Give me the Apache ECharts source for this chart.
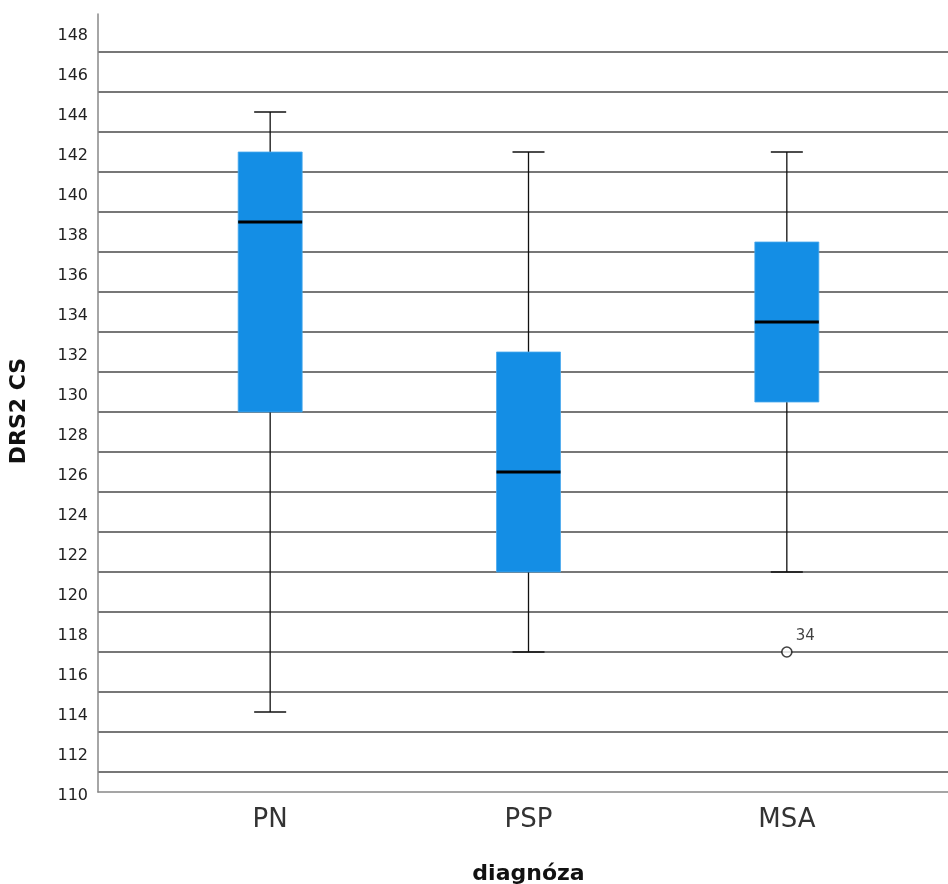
<!DOCTYPE html>
<html>
<head>
<meta charset="utf-8">
<script src="https://cdn.jsdelivr.net/npm/echarts@6/dist/echarts.min.js"></script>
<style>
  html, body { margin: 0; padding: 0; background: #fff; }
  #chart { width: 948px; height: 884px; }
</style>
</head>
<body>
<div id="chart"></div>
<script>
// ---- data ----
const categories = ['PN', 'PSP', 'MSA'];
const whiskerLow = [114, 117, 121];
const q1 = [129, 121, 129.5];
const median = [138.5, 126, 133.5];
const q3 = [142, 132, 137.5];
const whiskerHigh = [144, 142, 142];
const outlierCategory = ['MSA'];
const outlierValue = [117];
const outlierCase = ['34'];
const yTickLabels = [110,112,114,116,118,120,122,124,126,128,130,132,134,136,138,140,142,144,146,148];
const gridLineValues = [111,113,115,117,119,121,123,125,127,129,131,133,135,137,139,141,143,145,147];
const yMin = 110, yMax = 148.9;

// ---- chart ----
const chart = echarts.init(document.getElementById('chart'), null, { renderer: 'canvas' });

const boxData = categories.map((c, i) => [i, whiskerLow[i], q1[i], median[i], q3[i], whiskerHigh[i]]);
const outData = outlierCategory.map((c, i) => ({
  value: [categories.indexOf(c), outlierValue[i]],
  caseId: outlierCase[i]
}));

const FONT = '"DejaVu Sans", sans-serif';

const option = {
  animation: false,
  backgroundColor: '#ffffff',
  grid: [
    { left: 98, right: 0, top: 14, bottom: 92, outerBoundsMode: 'none', containLabel: false },
    { left: 141, right: 32, top: 14, bottom: 92, outerBoundsMode: 'none', containLabel: false }
  ],
  xAxis: [
    {
      type: 'value', gridIndex: 0, min: 0, max: 1,
      axisLine: { show: true, lineStyle: { color: '#888', width: 1.5 } },
      axisTick: { show: false }, axisLabel: { show: false }, splitLine: { show: false }
    },
    {
      type: 'category', gridIndex: 1, data: categories,
      axisLine: { show: false }, axisTick: { show: false }, splitLine: { show: false },
      axisLabel: { fontFamily: FONT, fontSize: 26, color: '#333', margin: 15 },
      name: 'diagnóza', nameLocation: 'middle', nameGap: 71,
      nameTextStyle: { fontFamily: FONT, fontSize: 22, fontWeight: 'bold', color: '#111' }
    }
  ],
  yAxis: [
    {
      type: 'value', gridIndex: 0, min: yMin, max: yMax,
      axisLine: { show: true, lineStyle: { color: '#888', width: 1.5 } },
      axisTick: { show: false, customValues: gridLineValues },
      axisLabel: {
        customValues: yTickLabels, fontFamily: FONT, fontSize: 16, color: '#222',
        margin: 10, verticalAlign: 'top', lineHeight: 7
      },
      splitLine: { show: true, lineStyle: { color: '#4a4a4a', width: 1.6 } },
      name: 'DRS2 CS', nameLocation: 'middle', nameGap: 68,
      nameTextStyle: { fontFamily: FONT, fontSize: 22, fontWeight: 'bold', color: '#111', padding: [0, 16, 0, 0] }
    },
    {
      type: 'value', gridIndex: 1, min: yMin, max: yMax, show: false,
      splitLine: { show: false }
    }
  ],
  series: [
    {
      type: 'custom',
      xAxisIndex: 1, yAxisIndex: 1,
      data: boxData,
      z: 3,
      renderItem: function (params, api) {
        const idx = api.value(0);
        const pLow = api.coord([idx, api.value(1)]);
        const pQ1 = api.coord([idx, api.value(2)]);
        const pMed = api.coord([idx, api.value(3)]);
        const pQ3 = api.coord([idx, api.value(4)]);
        const pHigh = api.coord([idx, api.value(5)]);
        const x = pMed[0];
        const halfBox = 32, halfCap = 16;
        const lineStyle = { stroke: '#111', lineWidth: 1.3 };
        return {
          type: 'group',
          children: [
            { type: 'line', shape: { x1: x, y1: pHigh[1], x2: x, y2: pQ3[1] }, style: lineStyle },
            { type: 'line', shape: { x1: x, y1: pQ1[1], x2: x, y2: pLow[1] }, style: lineStyle },
            { type: 'line', shape: { x1: x - halfCap, y1: pHigh[1], x2: x + halfCap, y2: pHigh[1] }, style: lineStyle },
            { type: 'line', shape: { x1: x - halfCap, y1: pLow[1], x2: x + halfCap, y2: pLow[1] }, style: lineStyle },
            { type: 'rect', shape: { x: x - halfBox, y: pQ3[1], width: 2 * halfBox, height: pQ1[1] - pQ3[1] },
              style: { fill: '#148ee5', stroke: '#4aa9ee', lineWidth: 0.8 } },
            { type: 'line', shape: { x1: x - halfBox, y1: pMed[1], x2: x + halfBox, y2: pMed[1] },
              style: { stroke: '#000', lineWidth: 3 } }
          ]
        };
      }
    },
    {
      type: 'scatter',
      xAxisIndex: 1, yAxisIndex: 1,
      data: outData,
      z: 4,
      symbol: 'circle',
      symbolSize: 10,
      itemStyle: { color: '#fff', borderColor: '#111', borderWidth: 1.6 },
      label: {
        show: true, position: 'right', distance: 0, offset: [3, -16],
        formatter: function (p) { return p.data.caseId; },
        fontFamily: FONT, fontSize: 15, color: '#111'
      }
    }
  ]
};

chart.setOption(option);
</script>
</body>
</html>
